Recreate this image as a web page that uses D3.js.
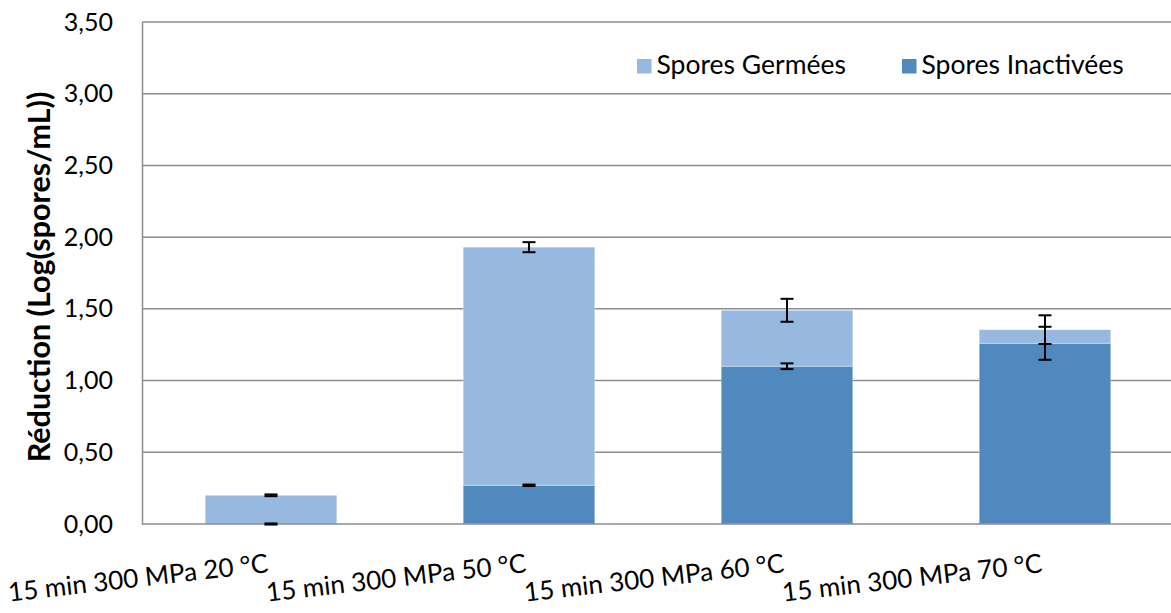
<!DOCTYPE html>
<html><head><meta charset="utf-8">
<script src="https://cdn.jsdelivr.net/npm/d3@7"></script>
<style>body{margin:0;background:#fff}text{font-family:Lato,"Open Sans",sans-serif;fill:#000}</style>
</head><body><svg id="c" width="1171" height="613"></svg>
<script>
const categories = ["15 min 300 MPa 20 °C","15 min 300 MPa 50 °C","15 min 300 MPa 60 °C","15 min 300 MPa 70 °C"];
const inactivees = [0.00, 0.27, 1.10, 1.26];
const germees = [0.20, 1.66, 0.39, 0.095];
const errInactivees = [0.004, 0.005, 0.02, 0.115];
const errGermees = [0.006, 0.035, 0.08, 0.10];
const yTicks = [0,0.5,1,1.5,2,2.5,3,3.5];
const seriesNames = ["Spores Inactivées","Spores Germées"];
const colors = {"Spores Inactivées":"#4F89BD","Spores Germées":"#97B9E0"};
const yTitle = "Réduction (Log(spores/mL))";

const svg = d3.select("#c");
const m = {l:142, r:1174, t:22, b:524};
const x = d3.scaleBand().domain(categories).range([m.l, m.r]).paddingInner(0.49).paddingOuter(0.245);
const y = d3.scaleLinear().domain([0,3.5]).range([m.b, m.t]);
const fmt = v => d3.format(".2f")(v).replace(".", ",");

// gridlines
svg.append("g").selectAll("line").data(yTicks.filter(d=>d>0)).join("line")
  .attr("x1", m.l).attr("x2", 1171).attr("y1", d=>y(d)).attr("y2", d=>y(d))
  .attr("stroke", "#8c8c8c").attr("stroke-width", 1.5);

// y axis
const ya = svg.append("g").attr("transform", `translate(${m.l},0)`)
  .call(d3.axisLeft(y).tickValues(yTicks).tickFormat(fmt).tickSize(0).tickPadding(29));
ya.select(".domain").attr("stroke", "#8c8c8c").attr("stroke-width", 1.5);
ya.selectAll("text").attr("font-size", 25).attr("font-family", "Lato");

// stacked bars
const rows = categories.map((c,i)=>({cat:c, "Spores Inactivées":inactivees[i], "Spores Germées":germees[i]}));
const stack = d3.stack().keys(seriesNames)(rows);
svg.append("g").selectAll("g").data(stack).join("g")
  .attr("fill", d=>colors[d.key])
  .selectAll("rect").data(d=>d).join("rect")
  .attr("x", d=>x(d.data.cat)).attr("width", x.bandwidth())
  .attr("y", d=>y(d[1])).attr("height", d=>y(d[0])-y(d[1]))
  .attr("stroke", "#ffffff").attr("stroke-opacity", 0.35).attr("stroke-width", 1);

// x axis line
svg.append("line").attr("x1", m.l).attr("x2", 1171).attr("y1", m.b).attr("y2", m.b)
  .attr("stroke", "#8c8c8c").attr("stroke-width", 1.5);

// error bars
const errs = [];
stack.forEach(s => s.forEach((d,i) => {
  const e = s.key === "Spores Inactivées" ? errInactivees[i] : errGermees[i];
  errs.push({cx: x(d.data.cat) + x.bandwidth()/2, v: d[1], e});
}));
const eg = svg.append("g").attr("stroke", "#000").attr("stroke-width", 2);
errs.forEach(d => {
  eg.append("line").attr("x1", d.cx).attr("x2", d.cx).attr("y1", y(d.v+d.e)).attr("y2", y(d.v-d.e));
  [d.v+d.e, d.v-d.e].forEach(v => eg.append("line").attr("x1", d.cx-6.5).attr("x2", d.cx+6.5).attr("y1", y(v)).attr("y2", y(v)));
});

// x labels
svg.append("g").selectAll("text").data(categories).join("text")
  .attr("transform", d=>`translate(${x(d)+x.bandwidth()/2-2},572) rotate(-6.5)`)
  .attr("text-anchor", "end").attr("font-size", 26).text(d=>d);

// y title
svg.append("text").attr("transform", "translate(50,277) rotate(-90)")
  .attr("text-anchor", "middle").attr("font-size", 30.5).attr("font-weight", "bold").text(yTitle);

// legend
const legend = [{k:"Spores Germées", x:637}, {k:"Spores Inactivées", x:902}];
const lg = svg.append("g").selectAll("g").data(legend).join("g").attr("transform", d=>`translate(${d.x},59)`);
lg.append("rect").attr("width", 14.5).attr("height", 14.5).attr("fill", d=>colors[d.k]);
lg.append("text").attr("x", 19.5).attr("y", 14.5).attr("font-size", 26.5).text(d=>d.k);
</script></body></html>
